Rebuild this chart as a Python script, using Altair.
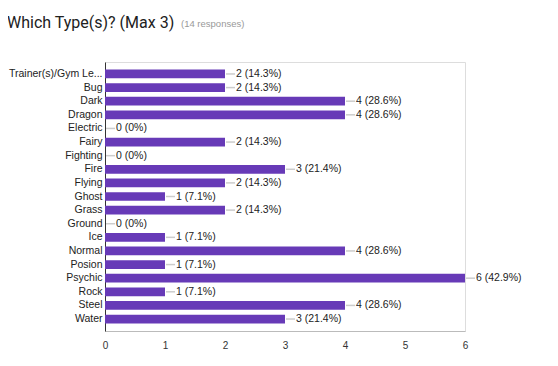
import altair as alt
import pandas as pd

categories = ["Trainer(s)/Gym Le...", "Bug", "Dark", "Dragon", "Electric", "Fairy",
              "Fighting", "Fire", "Flying", "Ghost", "Grass", "Ground", "Ice",
              "Normal", "Posion", "Psychic", "Rock", "Steel", "Water"]
counts = [2, 2, 4, 4, 0, 2, 0, 3, 2, 1, 2, 0, 1, 4, 1, 6, 1, 4, 3]
percents = ["14.3%", "14.3%", "28.6%", "28.6%", "0%", "14.3%", "0%", "21.4%", "14.3%",
            "7.1%", "14.3%", "0%", "7.1%", "28.6%", "7.1%", "42.9%", "7.1%", "28.6%", "21.4%"]
x_ticks = [0, 1, 2, 3, 4, 5, 6]
title_text = "Which Type(s)? (Max 3)"
subtitle_text = "(14 responses)"

df = pd.DataFrame({"type": categories, "count": counts, "pct": percents})
df["label"] = df["count"].astype(str) + " (" + df["pct"] + ")"

FONT = "Liberation Sans"

x = alt.X("count:Q", scale=alt.Scale(domain=[0, 6], nice=False),
          axis=alt.Axis(values=x_ticks, format="d", title=None, grid=False, ticks=False,
                        domainColor="#bbbbbb", domainWidth=1, labelPadding=9,
                        labelFont=FONT, labelFontSize=10, labelColor="#333333",
                        labelFlush=False))
y = alt.Y("type:N", sort=categories,
          scale=alt.Scale(paddingInner=0.36, paddingOuter=0.56),
          axis=alt.Axis(title=None, ticks=False, domainColor="#333333",
                        labelFont=FONT, labelFontSize=10.5, labelColor="#222222",
                        labelPadding=3, labelLimit=200))

base = alt.Chart(df)
bars = base.mark_bar(color="#673ab7").encode(x=x, y=y)
leader = base.mark_rule(color="#cccccc", strokeWidth=1.5, xOffset=1, x2Offset=10).encode(
    x="count:Q", x2="count:Q", y=alt.Y("type:N", sort=categories))
labels = base.mark_text(align="left", baseline="middle", dx=11, font=FONT,
                        fontSize=10.5, color="#222222").encode(
    x="count:Q", y=alt.Y("type:N", sort=categories), text="label:N")

title = alt.Chart(pd.DataFrame({"t": [title_text]})).mark_text(
    align="left", baseline="alphabetic", font="Roboto", fontSize=16, color="#212121"
).encode(x=alt.value(-98), y=alt.value(-34), text="t:N")
sub = alt.Chart(pd.DataFrame({"t": [subtitle_text]})).mark_text(
    align="left", baseline="alphabetic", font=FONT, fontSize=9.5, color="#999999"
).encode(x=alt.value(76), y=alt.value(-35), text="t:N")

chart = alt.layer(bars, leader, labels, title, sub).properties(
    width=360, height=269,
    autosize=alt.AutoSizeParams(type="none"),
    padding={"left": 97, "top": 54, "right": 85, "bottom": 27},
).configure_view(strokeWidth=0, stroke="transparent").configure(background="white")

chart.save("out.html", embed_options={"renderer": "svg", "actions": False})
